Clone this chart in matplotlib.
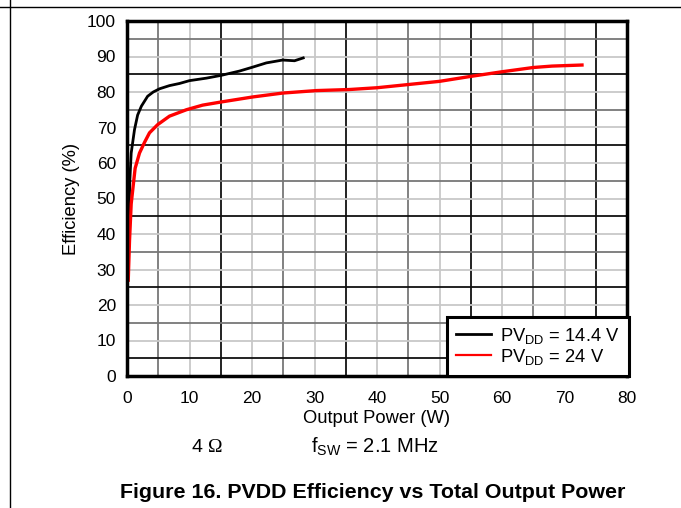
import numpy as np
import matplotlib
matplotlib.use("Agg")
import matplotlib.pyplot as plt
from matplotlib.lines import Line2D

plt.rcParams["font.family"] = ["Liberation Sans", "DejaVu Sans"]
plt.rcParams["mathtext.fontset"] = "custom"
plt.rcParams["mathtext.rm"] = "Liberation Sans"
plt.rcParams["mathtext.it"] = "Liberation Sans"

# -----------------------------------------------------------------------
# Data (Output power W, efficiency %)
# -----------------------------------------------------------------------
p_14v4 = [0.2, 0.45, 0.67, 1.2, 1.7, 2.3, 3.3, 4.2, 5.2, 6.8, 8.4, 10.0,
          12.7, 15.1, 18.0, 20.1, 22.3, 24.9, 26.8, 28.2]
eff_14v4 = [38.0, 55.0, 62.8, 69.4, 73.5, 76.0, 78.8, 80.0, 80.9, 81.8, 82.4,
            83.2, 83.9, 84.7, 85.9, 87.0, 88.2, 89.0, 88.8, 89.6]

p_24v = [0.2, 0.4, 0.67, 1.3, 2.0, 2.8, 3.6, 4.9, 6.8, 9.5, 12.1, 15.1,
         20.1, 24.9, 30.3, 35.6, 40.0, 45.0, 50.0, 55.0, 60.0, 65.0, 68.0,
         72.8]
eff_24v = [27.0, 38.0, 48.5, 58.5, 62.8, 65.8, 68.5, 70.8, 73.2, 75.0, 76.3,
           77.2, 78.6, 79.7, 80.4, 80.7, 81.2, 82.1, 83.0, 84.4, 85.7, 86.9,
           87.3, 87.6]

labels = ["PV$_{\\mathrm{DD}}$ = 14.4 V", "PV$_{\\mathrm{DD}}$ = 24 V"]
x_ticks = [0, 10, 20, 30, 40, 50, 60, 70, 80]
y_ticks = [0, 10, 20, 30, 40, 50, 60, 70, 80, 90, 100]

W, H = 681, 508
fig = plt.figure(figsize=(W / 100, H / 100), dpi=100)
ax = fig.add_axes([127 / W, (H - 376) / H, 500 / W, 355 / H])

# grid: light lines on the decades, dark ones in between
for v in range(10, 80, 10):
    ax.axvline(v, color="#c8c8c8", lw=1.3, zorder=1)
for i, v in enumerate(range(5, 80, 10)):
    ax.axvline(v, color="#777777" if i % 2 == 0 else "#111111", lw=1.3, zorder=1)
for v in range(10, 100, 10):
    ax.axhline(v, color="#c8c8c8", lw=1.3, zorder=1)
for i, v in enumerate(range(5, 100, 10)):
    ax.axhline(v, color="#111111" if i % 2 == 0 else "#777777", lw=1.3, zorder=1)

ax.plot(p_14v4, eff_14v4, color="black", lw=2.0, label=labels[0], zorder=3)
ax.plot(p_24v, eff_24v, color="#ff0000", lw=2.4, label=labels[1], zorder=3)

ax.set_xlim(0, 80)
ax.set_ylim(0, 100)
ax.set_xticks(x_ticks)
ax.set_yticks(y_ticks)
ax.tick_params(axis="x", length=0, labelsize=12.5, pad=11)
ax.tick_params(axis="y", length=0, labelsize=12.5, pad=8)
for s in ax.spines.values():
    s.set_linewidth(2.5)
    s.set_zorder(5)

ax.set_xlabel("Output Power (W)", fontsize=13.2, labelpad=3)
ax.set_ylabel("Efficiency (%)", fontsize=13.2, labelpad=5)

leg = ax.legend(loc="lower right", bbox_to_anchor=(1.004, 0), borderaxespad=0,
                fontsize=13.2, fancybox=False, framealpha=1, handlelength=1.9,
                handletextpad=0.5, borderpad=0.5, labelspacing=0.05)
leg.get_frame().set_edgecolor("black")
leg.get_frame().set_linewidth(2.2)
leg.set_zorder(6)
leg.get_lines()[1].set_linewidth(1.6)

fig.text(197 / W, 1 - 447 / H, "4", fontsize=14, ha="center", va="center")
fig.text(215 / W, 1 - 447 / H, "\u03a9", fontsize=14, ha="center", va="center",
         family="Liberation Serif")
fig.text(375 / W, 1 - 447 / H, "f$_{\\mathrm{SW}}$ = 2.1 MHz", fontsize=14.5,
         ha="center", va="center")
fig.text(373 / W, 1 - 493 / H, "Figure 16. PVDD Efficiency vs Total Output Power",
         fontsize=15.4, fontweight="bold", ha="center", va="center")

# page frame lines
fig.add_artist(Line2D([0, 1], [1 - 6.5 / H, 1 - 6.5 / H], color="black", lw=1.0))
fig.add_artist(Line2D([9.5 / W, 9.5 / W], [0, 1], color="black", lw=1.0))

fig.savefig("out.png", dpi=100)
